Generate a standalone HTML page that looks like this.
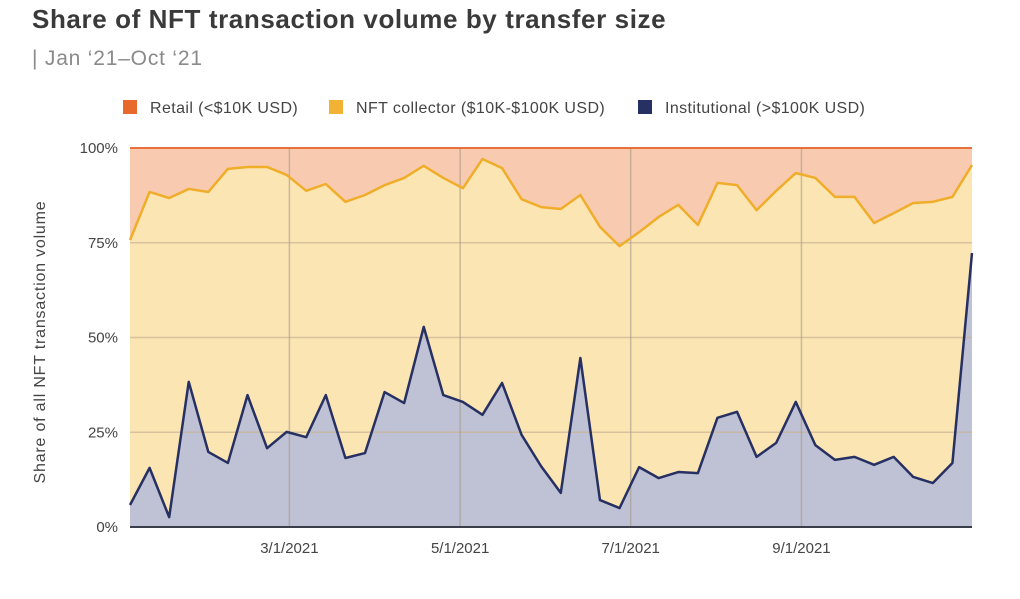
<!DOCTYPE html>
<html><head><meta charset="utf-8"><style>
body{margin:0;background:#fff;width:1020px;height:594px;overflow:hidden;font-family:"Liberation Sans",sans-serif}
</style></head><body>
<svg width="1020" height="594" xmlns="http://www.w3.org/2000/svg">
<text x="32" y="28" font-size="26" font-weight="bold" fill="#3a3a3a" letter-spacing="0.6">Share of NFT transaction volume by transfer size</text>
<text x="32" y="65" font-size="21" fill="#8a8a8a" letter-spacing="0.8">| Jan ‘21–Oct ‘21</text>
<g font-size="16" fill="#444" letter-spacing="0.4">
<rect x="123" y="100" width="14" height="14" fill="#e9692c"/>
<text x="150" y="113">Retail (&lt;$10K USD)</text>
<rect x="329" y="100" width="14" height="14" fill="#f2b233"/>
<text x="356" y="113">NFT collector ($10K-$100K USD)</text>
<rect x="638" y="100" width="14" height="14" fill="#263063"/>
<text x="665" y="113">Institutional (&gt;$100K USD)</text>
</g>
<text transform="translate(45,342) rotate(-90)" text-anchor="middle" font-size="16" letter-spacing="0.8" fill="#444">Share of all NFT transaction volume</text>
<g id="plot"></g>
</svg>
<script>
const institutional=[5.8,15.6,2.6,38.3,19.8,16.9,34.8,20.8,25.1,23.7,34.8,18.2,19.5,35.6,32.7,52.8,34.8,33.0,29.6,38.0,24.3,16,9.0,44.6,7.1,5.0,15.8,12.9,14.5,14.2,28.8,30.4,18.5,22.2,33.0,21.6,17.7,18.5,16.4,18.5,13.2,11.6,16.9,72.3];
const collector=[69.9,72.8,84.2,50.9,68.6,77.6,60.2,74.2,67.8,65.0,55.7,67.6,68.1,54.6,59.4,42.5,57.3,56.4,67.5,56.7,62.2,68.4,74.9,43.0,72.1,69.1,62.0,68.9,70.5,65.5,62.0,59.8,65.1,66.5,60.4,70.5,69.4,68.6,63.8,64.3,72.3,74.2,70.2,23.2];
const yTicks=[0,25,50,75,100];
const xTickLabels=["3/1/2021","5/1/2021","7/1/2021","9/1/2021"];
const xTickIndex=[8.14,16.86,25.57,34.29];
const NS="http://www.w3.org/2000/svg";
const X0=130,X1=972,Y0=527,Y1=148;
const n=institutional.length;
const xs=i=>X0+i*(X1-X0)/(n-1);
const ys=v=>Y0-v*(Y0-Y1)/100;
const g=document.getElementById('plot');
function mk(t,a){const e=document.createElementNS(NS,t);for(const k in a)e.setAttribute(k,a[k]);g.appendChild(e);return e;}
const topVals=institutional.map((v,i)=>v+collector[i]);
let e;
e=mk('rect',{x:X0,y:Y1,width:X1-X0,height:Y0-Y1,fill:'#f8cbb0'});


const linePts=arr=>arr.map((v,i)=>xs(i)+','+ys(v)).join(' ');
e=mk('polygon',{points:X0+','+Y0+' '+linePts(topVals)+' '+X1+','+Y0,fill:'#fbe5b3'});


e=mk('polygon',{points:X0+','+Y0+' '+linePts(institutional)+' '+xs(n-1)+','+Y0,fill:'#bfc1d4'});


yTicks.forEach(t=>{
 if(t>0&&t<100){const l=mk('line',{x1:X0,x2:X1,y1:ys(t),y2:ys(t),stroke:'#c8b394','stroke-opacity':0.7,'stroke-width':1.5});
 
 }
 const tx=mk('text',{x:118,y:ys(t)+5,'text-anchor':'end','font-size':15,fill:'#444'});
 tx.textContent=t+'%';
 
 
});
xTickIndex.forEach((ix,k)=>{
 const l=mk('line',{x1:xs(ix),x2:xs(ix),y1:Y1,y2:Y0,stroke:'#a89a8a','stroke-opacity':0.6,'stroke-width':1.5});
 
 
 const tx=mk('text',{x:xs(ix),y:553,'text-anchor':'middle','font-size':15,fill:'#444'});
 tx.textContent=xTickLabels[k];
 
 
});
e=mk('line',{x1:X0,x2:X1,y1:Y1,y2:Y1,stroke:'#e8703a','stroke-width':2});


e=mk('polyline',{points:linePts(topVals),fill:'none',stroke:'#f0ad2a','stroke-width':2.5,'stroke-linejoin':'round'});


e=mk('polyline',{points:linePts(institutional),fill:'none',stroke:'#263063','stroke-width':2.5,'stroke-linejoin':'round'});


e=mk('line',{x1:X0,x2:X1,y1:Y0,y2:Y0,stroke:'#3a3d4a','stroke-width':2});


</script>
</body></html>
